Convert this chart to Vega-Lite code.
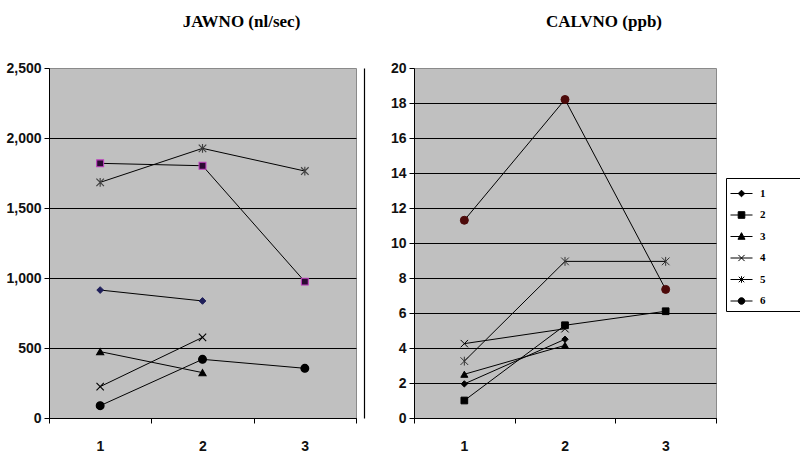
{
  "$schema": "https://vega.github.io/schema/vega-lite/v6.json",
  "background": "white",
  "padding": {"left": 5, "top": 12, "right": 5, "bottom": 5},
  "datasets": {
    "jaw": [
      {"series": "1", "x": 1, "v": 914}, {"series": "1", "x": 2, "v": 836},
      {"series": "2", "x": 1, "v": 1819}, {"series": "2", "x": 2, "v": 1802}, {"series": "2", "x": 3, "v": 974},
      {"series": "3", "x": 1, "v": 474}, {"series": "3", "x": 2, "v": 324},
      {"series": "4", "x": 1, "v": 224}, {"series": "4", "x": 2, "v": 576},
      {"series": "5", "x": 1, "v": 1683}, {"series": "5", "x": 2, "v": 1926}, {"series": "5", "x": 3, "v": 1764},
      {"series": "6", "x": 1, "v": 88}, {"series": "6", "x": 2, "v": 419}, {"series": "6", "x": 3, "v": 355}
    ],
    "calv": [
      {"series": "1", "x": 1, "v": 1.95}, {"series": "1", "x": 2, "v": 4.5},
      {"series": "2", "x": 1, "v": 1.0}, {"series": "2", "x": 2, "v": 5.3}, {"series": "2", "x": 3, "v": 6.1},
      {"series": "3", "x": 1, "v": 2.5}, {"series": "3", "x": 2, "v": 4.15},
      {"series": "4", "x": 1, "v": 4.25}, {"series": "4", "x": 2, "v": 5.1},
      {"series": "5", "x": 1, "v": 3.25}, {"series": "5", "x": 2, "v": 8.95}, {"series": "5", "x": 3, "v": 8.95},
      {"series": "6", "x": 1, "v": 11.3}, {"series": "6", "x": 2, "v": 18.2}, {"series": "6", "x": 3, "v": 7.35}
    ]
  },
  "config": {
    "font": "Liberation Sans",
    "view": {"fill": "#c0c0c0", "stroke": "#8a8a8a", "strokeWidth": 1},
    "axis": {
      "labelFont": "Liberation Sans",
      "labelFontSize": 14,
      "labelFontWeight": "bold",
      "labelColor": "#111111",
      "domainColor": "#000000",
      "tickColor": "#000000",
      "gridColor": "#000000",
      "gridWidth": 1,
      "title": null
    },
    "title": {"font": "Liberation Serif", "fontSize": 17, "fontWeight": "bold", "color": "#000000"}
  },
  "spacing": 24,
  "hconcat": [
    {
      "width": 307,
      "height": 350,
      "title": {"text": "JAWNO (nl/sec)", "dx": 39, "offset": 30},
      "data": {"name": "jaw"},
      "encoding": {
        "x": {
          "field": "x", "type": "quantitative",
          "scale": {"domain": [0.5, 3.5], "nice": false, "zero": false},
          "axis": {
            "values": [0.5, 1.5, 2.5, 3.5],
            "labelExpr": "datum.value < 3 ? format(datum.value + 0.5, 'd') : ''",
            "labelOffset": 51, "labelFlush": false, "grid": false,
            "tickSize": 5, "labelPadding": 16
          }
        }
      },
      "resolve": {"axis": {"y": "independent"}},
      "layer": [
        {
          "mark": {"type": "line", "color": "#000000", "strokeWidth": 1},
          "encoding": {
            "detail": {"field": "series"},
            "y": {
              "field": "v", "type": "quantitative",
              "scale": {"domain": [0, 2500], "nice": false},
              "axis": {
                "values": [0, 500, 1000, 1500, 2000, 2500], "format": ",d",
                "tickSize": 5, "labelPadding": 3,
                "gridOpacity": {"condition": {"test": "datum.value >= 2500", "value": 0}, "value": 1}
              }
            }
          }
        },
        {
          "mark": {"type": "point", "filled": true, "opacity": 1},
          "encoding": {
            "y": {
              "field": "v", "type": "quantitative",
              "axis": {"orient": "right", "offset": 8, "labels": false, "ticks": false, "grid": false, "domainColor": "#000000", "domainWidth": 1.2}
            },
            "shape": {"field": "series", "type": "nominal", "legend": null,
              "scale": {"domain": ["1", "2", "3", "4", "5", "6"],
                "range": ["diamond", "square", "triangle-up", "M-1,-1L1,1M-1,1L1,-1", "M-1,-1L1,1M-1,1L1,-1M0,-1.15L0,1.15", "circle"]}},
            "size": {"field": "series", "type": "ordinal", "legend": null,
              "scale": {"domain": ["1", "2", "3", "4", "5", "6"], "range": [45, 60, 45, 110, 100, 56]}},
            "strokeWidth": {"field": "series", "type": "ordinal", "legend": null,
              "scale": {"domain": ["1", "2", "3", "4", "5", "6"], "range": [1, 1.2, 1, 2.2, 1, 1]}},
            "fill": {"field": "series", "type": "nominal", "legend": null,
              "scale": {"domain": ["1", "2", "3", "4", "5", "6"], "range": ["#1f1f5a", "#2b0a33", "#000000", "#000000", "#404040", "#000000"]}},
            "stroke": {"field": "series", "type": "nominal", "legend": null,
              "scale": {"domain": ["1", "2", "3", "4", "5", "6"], "range": ["#1f1f5a", "#c040c0", "#000000", "#000000", "#404040", "#000000"]}}
          }
        }
      ]
    },
    {
      "width": 302,
      "height": 350,
      "title": {"text": "CALVNO (ppb)", "dx": 39, "offset": 30},
      "data": {"name": "calv"},
      "encoding": {
        "x": {
          "field": "x", "type": "quantitative",
          "scale": {"domain": [0.5, 3.5], "nice": false, "zero": false},
          "axis": {
            "values": [0.5, 1.5, 2.5, 3.5],
            "labelExpr": "datum.value < 3 ? format(datum.value + 0.5, 'd') : ''",
            "labelOffset": 50, "labelFlush": false, "grid": false,
            "tickSize": 5, "labelPadding": 16
          }
        },
        "y": {
          "field": "v", "type": "quantitative",
          "scale": {"domain": [0, 20], "nice": false},
          "axis": {
            "values": [0, 2, 4, 6, 8, 10, 12, 14, 16, 18, 20],
            "tickSize": 5, "labelPadding": 3,
            "gridOpacity": {"condition": {"test": "datum.value >= 20", "value": 0}, "value": 1}
          }
        }
      },
      "resolve": {"scale": {"shape": "independent"}},
      "layer": [
        {"mark": {"type": "line", "color": "#000000", "strokeWidth": 1}, "encoding": {"detail": {"field": "series"}}},
        {
          "mark": {"type": "point", "filled": true, "opacity": 1},
          "encoding": {
            "shape": {"field": "series", "type": "nominal", "legend": null,
              "scale": {"domain": ["1", "2", "3", "4", "5", "6"],
                "range": ["diamond", "square", "triangle-up", "M-1,-1L1,1M-1,1L1,-1", "M-1,-1L1,1M-1,1L1,-1M0,-1.15L0,1.15", "circle"]}},
            "size": {"field": "series", "type": "ordinal", "legend": null,
              "scale": {"domain": ["1", "2", "3", "4", "5", "6"], "range": [40, 64, 45, 100, 100, 64]}},
            "strokeWidth": {"field": "series", "type": "ordinal", "legend": null,
              "scale": {"domain": ["1", "2", "3", "4", "5", "6"], "range": [1, 1, 1, 1.8, 1, 1]}},
            "fill": {"field": "series", "type": "nominal", "legend": null,
              "scale": {"domain": ["1", "2", "3", "4", "5", "6"], "range": ["#000000", "#000000", "#000000", "#000000", "#333333", "#4d0a0a"]}},
            "stroke": {"field": "series", "type": "nominal", "legend": null,
              "scale": {"domain": ["1", "2", "3", "4", "5", "6"], "range": ["#000000", "#000000", "#000000", "#000000", "#333333", "#4d0a0a"]}}
          }
        },
        {
          "mark": {"type": "point", "filled": true, "opacity": 0, "fill": "#000000", "stroke": "#000000", "strokeWidth": 1},
          "encoding": {
            "shape": {"field": "series", "type": "nominal",
              "scale": {"domain": ["1", "2", "3", "4", "5", "6"],
                "range": [
                  "M-1,0L1,0M0,-0.3L0.3,0L0,0.3L-0.3,0Z",
                  "M-1,0L1,0M-0.3,-0.3L0.3,-0.3L0.3,0.3L-0.3,0.3Z",
                  "M-1,0L1,0M0,-0.35L0.32,0.25L-0.32,0.25Z",
                  "M-1,0L1,0M-0.28,-0.28L0.28,0.28M-0.28,0.28L0.28,-0.28",
                  "M-1,0L1,0M-0.25,-0.25L0.25,0.25M-0.25,0.25L0.25,-0.25M0,-0.3L0,0.3",
                  "M-1,0L1,0M0.3,0A0.3,0.3 0 1 1 -0.3,0A0.3,0.3 0 1 1 0.3,0Z"
                ]},
              "legend": {
                "title": null, "orient": "none", "legendX": 312, "legendY": 110,
                "strokeColor": "#000000", "fillColor": "#ffffff", "padding": 4,
                "symbolSize": 484, "rowPadding": 4.5,
                "symbolOpacity": 1, "symbolStrokeWidth": 1,
                "labelFont": "Liberation Serif", "labelFontSize": 11, "labelFontWeight": "bold",
                "labelColor": "#000000", "labelOffset": 7,
                "labelExpr": "datum.label + '\u2800\u2800\u2800\u2800'"
              }
            }
          }
        }
      ]
    }
  ],
  "resolve": {
    "scale": {"shape": "independent", "fill": "independent", "stroke": "independent", "size": "independent", "strokeWidth": "independent", "x": "independent", "y": "independent"},
    "legend": {"shape": "independent"}
  }
}
